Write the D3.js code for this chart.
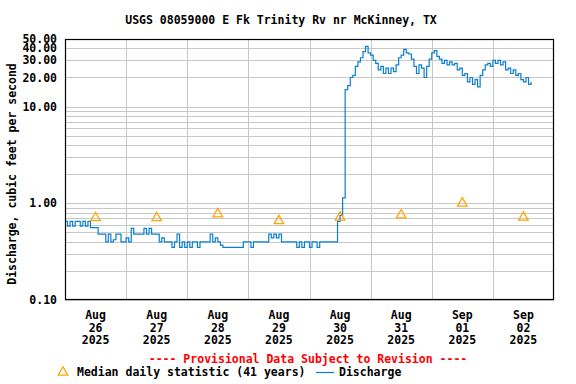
<!DOCTYPE html>
<html lang="en">
<head>
<meta charset="UTF-8" />
<title>USGS 08059000 E Fk Trinity Rv nr McKinney, TX</title>
<script src="https://d3js.org/d3.v7.min.js"></script>
<style>
  body { margin: 0; background: #fff; }
  svg text { font-family: "DejaVu Sans Mono", monospace; font-weight: bold; font-size: 11.5px; fill: #000; }
</style>
</head>
<body>
<svg id="chart" width="576" height="384"></svg>
<script>
const title = "USGS 08059000 E Fk Trinity Rv nr McKinney, TX";
const yTitle = "Discharge, cubic feet per second";
const yTickValues = [0.1, 1, 10, 20, 30, 40, 50];
const dayLabels = [
  ["Aug", "26", "2025"], ["Aug", "27", "2025"], ["Aug", "28", "2025"], ["Aug", "29", "2025"],
  ["Aug", "30", "2025"], ["Aug", "31", "2025"], ["Sep", "01", "2025"], ["Sep", "02", "2025"]
];
// median daily statistic, one per day (noon)
const medianValues = [0.72, 0.72, 0.79, 0.67, 0.73, 0.77, 1.02, 0.73];
// hourly discharge starting Aug 26 00:00
const discharge = [
  0.65,0.58,0.65,0.58,0.65,0.65,0.58,0.65,0.58,0.65,0.56,0.56,0.56,0.48,0.48,0.48,0.40,0.48,0.40,0.42,0.48,0.48,0.40,0.40,
  0.44,0.40,0.55,0.48,0.48,0.48,0.48,0.55,0.48,0.55,0.48,0.48,0.48,0.40,0.44,0.40,0.40,0.40,0.35,0.40,0.48,0.35,0.40,0.35,
  0.40,0.35,0.40,0.40,0.35,0.40,0.40,0.40,0.40,0.48,0.40,0.44,0.40,0.37,0.35,0.35,0.35,0.35,0.35,0.35,0.35,0.35,0.40,0.40,
  0.40,0.35,0.40,0.40,0.40,0.40,0.40,0.40,0.48,0.44,0.48,0.44,0.48,0.40,0.40,0.40,0.40,0.40,0.40,0.35,0.40,0.35,0.40,0.40,
  0.35,0.40,0.40,0.35,0.40,0.40,0.40,0.40,0.40,0.40,0.40,0.65,0.75,1.14,15,16.5,20,21,26,29,32,37,42,36,
  34,30,28,24,26,22,25,22,25,23,27,32,34,39,36,35,31,26,22,27,25,20,26,31,
  36,38,33,31,28,30,27,29,27,28,24,25,21,22,18,20,17,19,16,21,24,27,28,26,
  30,28,30,27,29,24,25,22,24,21,22,19,18,20,17,18
];

const blue = "#0a7fd0";
const orange = "#ffa500";
const svg = d3.select("#chart");
const plotLeft = 65, plotRight = 554, plotTop = 39, plotBottom = 300;

const start = new Date(2025, 7, 26);
const end = new Date(2025, 8, 3);
const x = d3.scaleTime().domain([start, end]).range([plotLeft, plotRight]);
const y = d3.scaleLog().domain([0.1, 50]).range([plotBottom, plotTop]);
const hourDate = h => new Date(2025, 7, 26, h);
const noonOf = i => d3.timeHour.offset(d3.timeDay.offset(start, i), 12);

// gridlines
const gridVals = [];
[0.1, 1, 10].forEach(d => { for (let k = 1; k <= 9; k++) if (d * k <= 50) gridVals.push(d * k); });
gridVals.push(20, 30, 40, 50);
const grid = svg.append("g").attr("stroke", "#c8c8c8").attr("stroke-width", 1);
grid.selectAll("line.h").data(gridVals).join("line")
  .attr("x1", plotLeft).attr("x2", plotRight)
  .attr("y1", d => Math.round(y(d)) + 0.5).attr("y2", d => Math.round(y(d)) + 0.5);
const midnights = d3.timeDay.range(d3.timeDay.offset(start, 1), end);
grid.selectAll("line.v").data(midnights).join("line")
  .attr("y1", plotTop).attr("y2", plotBottom)
  .attr("x1", d => Math.round(x(d)) + 0.5).attr("x2", d => Math.round(x(d)) + 0.5);

// discharge line
const line = d3.line()
  .x((d, i) => x(hourDate(i)))
  .y(d => y(d))
  .curve(d3.curveStepAfter);
svg.append("path").datum(discharge)
  .attr("d", line).attr("fill", "none").attr("stroke", blue).attr("stroke-width", 1.2);

// median triangles
const tri = "M0,-4.8L4.8,3.6L-4.8,3.6Z";
svg.append("g").selectAll("path").data(medianValues).join("path")
  .attr("d", tri)
  .attr("transform", (d, i) => `translate(${x(noonOf(i))},${y(d)})`)
  .attr("fill", "none").attr("stroke", orange).attr("stroke-width", 1.3);

// frame
svg.append("rect").attr("x", plotLeft + 0.5).attr("y", plotTop + 0.5)
  .attr("width", plotRight - plotLeft - 1).attr("height", plotBottom - plotTop - 1)
  .attr("fill", "none").attr("stroke", "#000").attr("stroke-width", 1.2);

// y tick labels
svg.append("g").selectAll("text").data(yTickValues).join("text")
  .attr("x", 57).attr("y", d => y(d)).attr("dy", "0.35em")
  .attr("text-anchor", "end").text(d => d.toFixed(2));

// x labels at noon
const xl = svg.append("g").selectAll("text").data(dayLabels).join("text")
  .attr("text-anchor", "middle")
  .attr("transform", (d, i) => `translate(${x(noonOf(i))},319)`);
xl.selectAll("tspan").data(d => d).join("tspan")
  .attr("x", 0).attr("y", (d, j) => j * 12.7).text(d => d);

// titles
svg.append("text").attr("x", 281).attr("y", 24).attr("text-anchor", "middle").text(title);
svg.append("text").attr("transform", "translate(16,174) rotate(-90)")
  .attr("text-anchor", "middle").text(yTitle);
svg.append("text").attr("x", 308).attr("y", 363).attr("text-anchor", "middle")
  .style("fill", "#ff0000").text("---- Provisional Data Subject to Revision ----");

// legend
svg.append("path").attr("d", tri).attr("transform", "translate(63,371.5)")
  .attr("fill", "none").attr("stroke", orange).attr("stroke-width", 1.3);
svg.append("text").attr("x", 77).attr("y", 376).text("Median daily statistic (41 years)");
svg.append("line").attr("x1", 316).attr("x2", 334).attr("y1", 372.5).attr("y2", 372.5)
  .attr("stroke", blue).attr("stroke-width", 1.2);
svg.append("text").attr("x", 339).attr("y", 376).text("Discharge");
</script>
</body>
</html>
